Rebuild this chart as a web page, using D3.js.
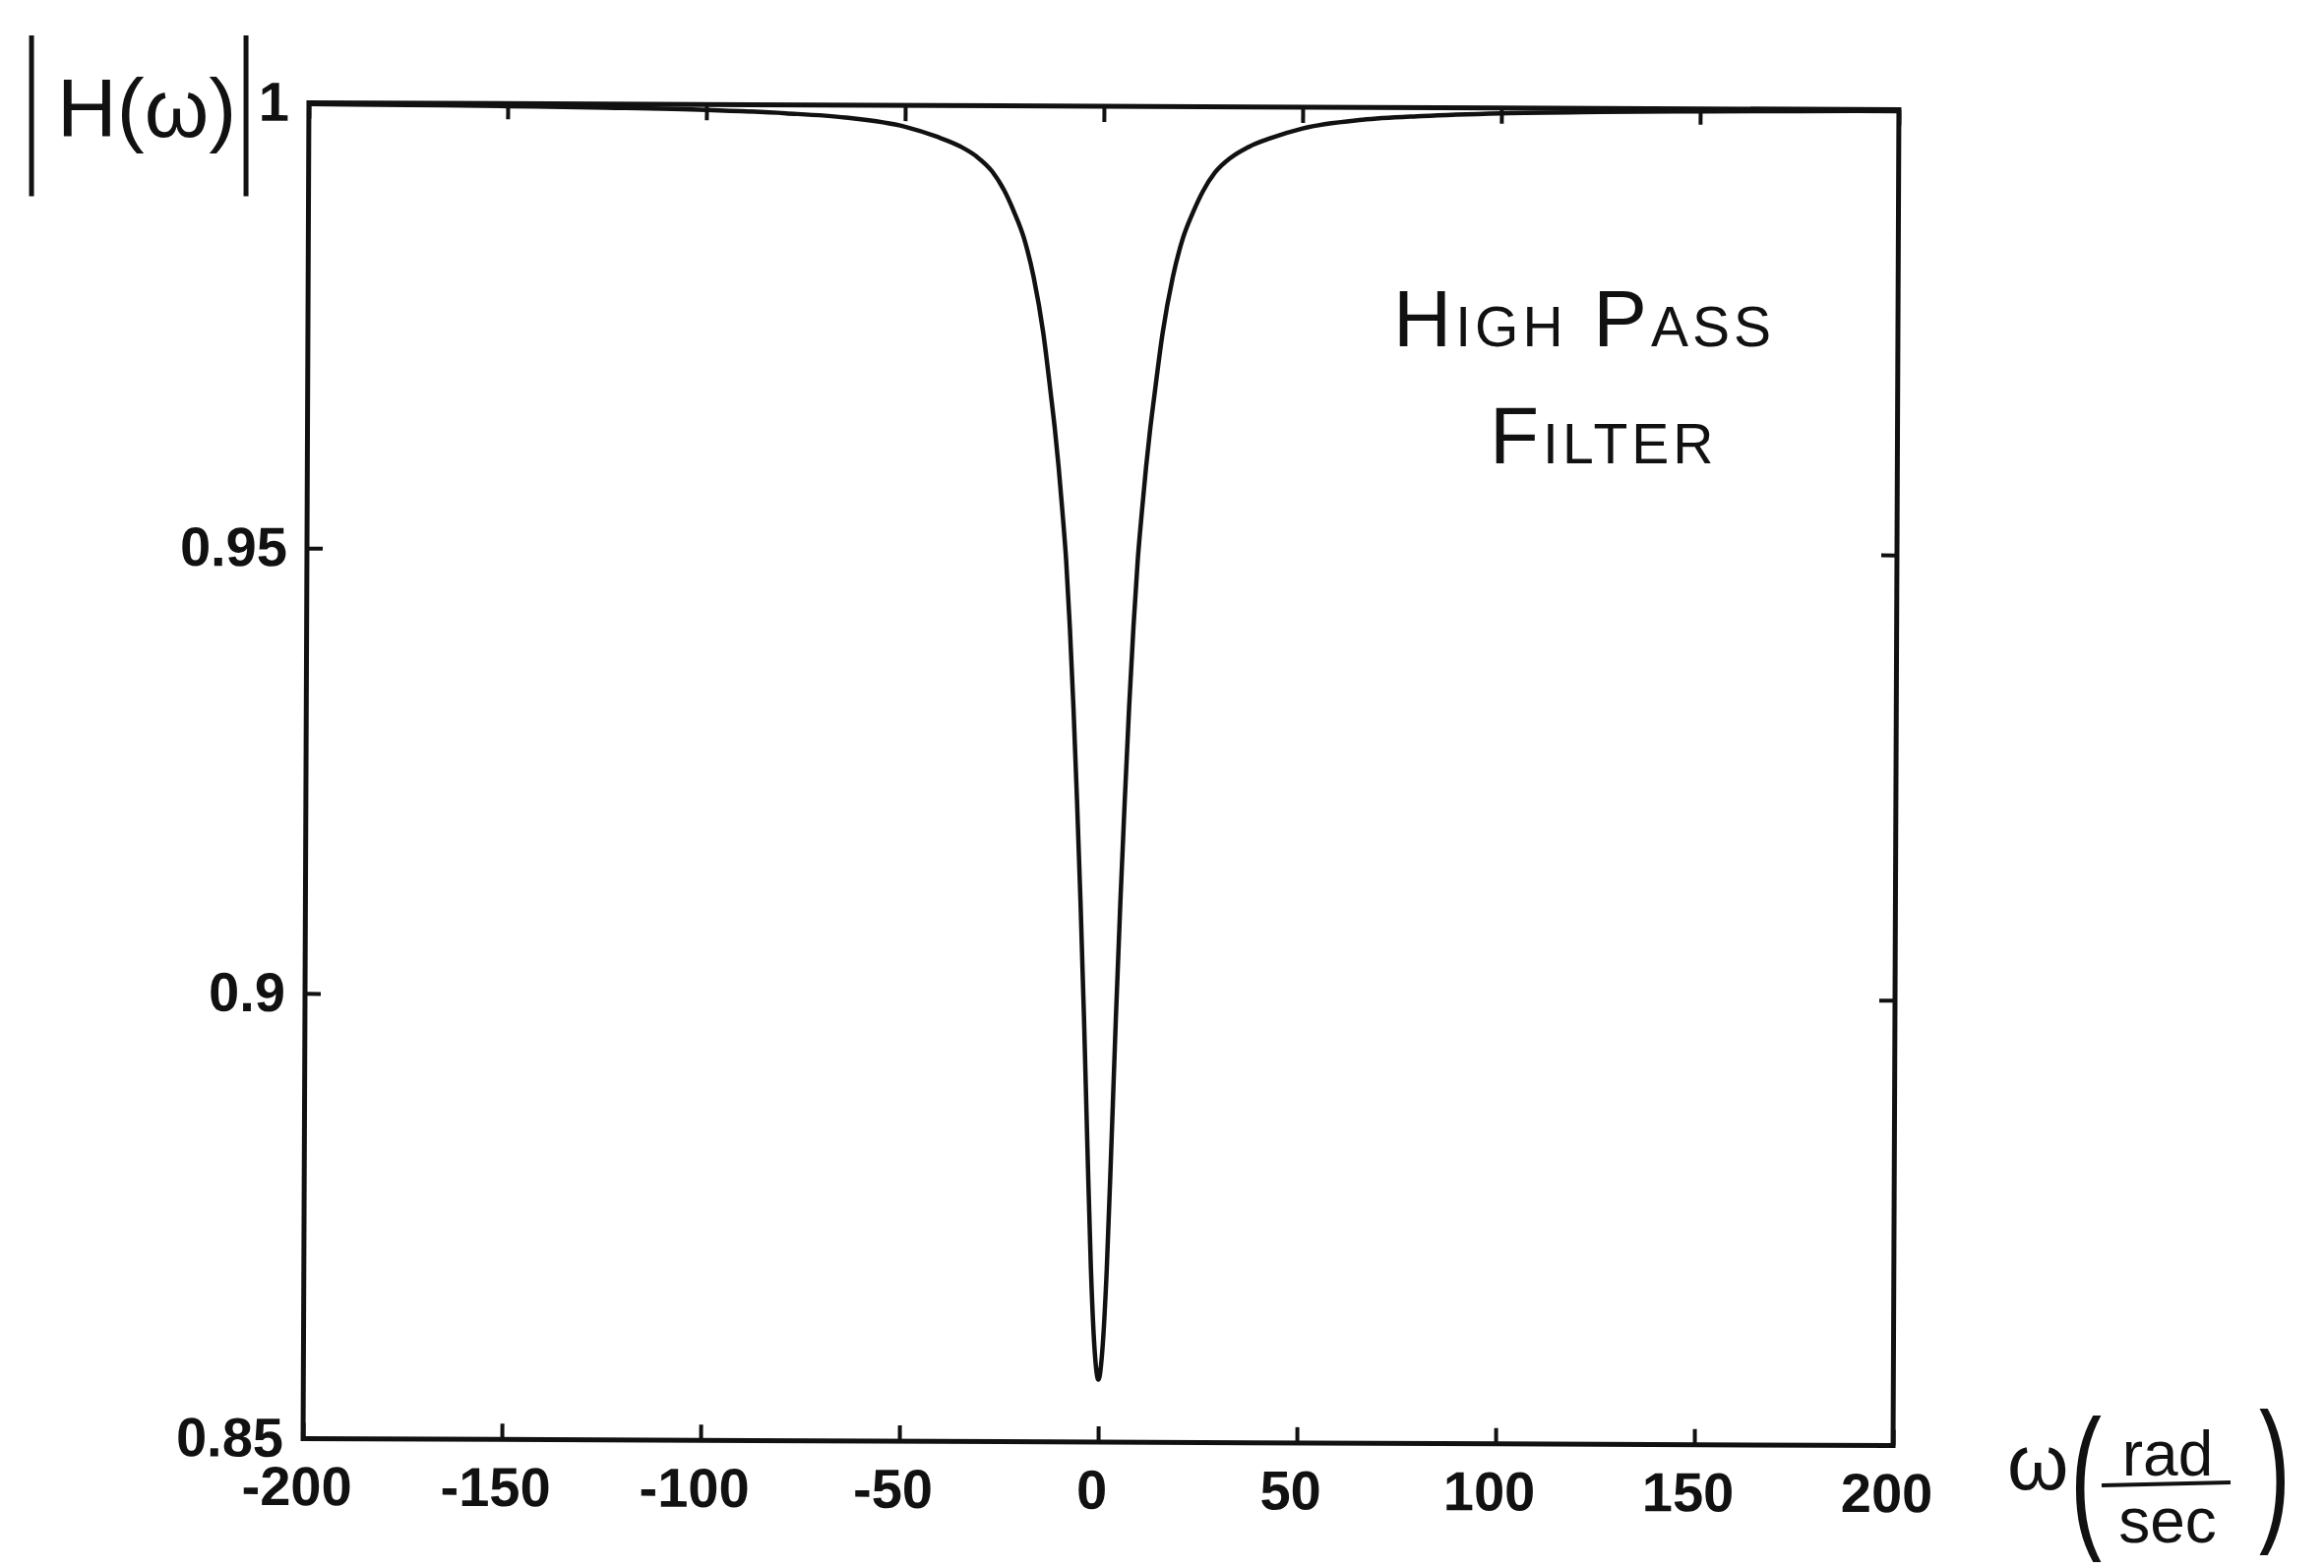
<!DOCTYPE html>
<html>
<head>
<meta charset="utf-8">
<script src="https://cdn.jsdelivr.net/npm/d3@7"></script>
<style>
  body { margin: 0; background: #fff; }
  .tick text { font-family: "Liberation Sans", Arial, sans-serif; font-weight: bold; fill: #111; }
  .hand { font-family: "Liberation Sans", Arial, sans-serif; fill: #111; }
</style>
</head>
<body>
<div id="chart"></div>
<script>
// frequency (rad/sec) and |H(w)|
const omega = [-200, -175, -150, -125, -100, -80, -65, -50, -42, -36, -32, -28, -25, -22.5, -20, -17.5, -15, -13, -12, -11, -10,
               -9, -8, -7, -6, -5, -4, -3, -2, -1, 0, 1, 2, 3, 4, 5, 6, 7, 8, 9,
               10, 11, 12, 13, 15, 17.5, 20, 22.5, 25, 28, 32, 36, 42, 50, 65, 80, 100, 125, 150, 175, 200];
const magnitude = [0.99985, 0.9998, 0.99972, 0.9996, 0.9994, 0.99905, 0.9986, 0.9976, 0.9965, 0.9954, 0.9943, 0.9926, 0.9905, 0.9881, 0.9852, 0.9808, 0.9745, 0.9675, 0.9638, 0.9595, 0.9545,
                   0.949, 0.9415, 0.9325, 0.922, 0.9105, 0.8975, 0.883, 0.8695, 0.8605, 0.857, 0.8605, 0.8695, 0.883, 0.8975, 0.9105, 0.922, 0.9325, 0.9415, 0.949,
                   0.9545, 0.9595, 0.9638, 0.9675, 0.9745, 0.9808, 0.9852, 0.9881, 0.9905, 0.9926, 0.9943, 0.9954, 0.9965, 0.9976, 0.9986, 0.99905, 0.9994, 0.9996, 0.99972, 0.9998, 0.99985];

const xTicks = [-200, -150, -100, -50, 0, 50, 100, 150, 200];
const yTicks = [0.85, 0.9, 0.95, 1];

// set the dimensions and margins of the graph
const margin = {top: 108, right: 435, bottom: 128, left: 311},
      width = 2362 - margin.left - margin.right,
      height = 1594 - margin.top - margin.bottom;

const x = d3.scaleLinear().domain([-200, 200]).range([0, width]);
const y = d3.scaleLinear().domain([0.85, 1]).range([height, 0]);

const data = omega.map((w, i) => ({w: w, h: magnitude[i]}));

const svg = d3.select("#chart").append("svg")
              .attr("width", 2362)
              .attr("height", 1594);

// the scan is a little tilted, so tilt the plot the same way
const g = svg.append("g")
             .attr("transform", "rotate(0.25," + (margin.left + width / 2) + "," + (margin.top + height / 2) + ")")
             .append("g")
             .attr("transform", "translate(" + margin.left + "," + margin.top + ")");

const tick = 16;

// bottom axis with labels, ticks pointing in
g.append("g")
 .attr("transform", "translate(0," + height + ")")
 .call(d3.axisBottom(x).tickValues(xTicks).tickSize(-tick).tickPadding(28).tickFormat(d => String(d)))
 .call(a => a.select(".domain").remove())
 .call(a => a.selectAll("text").style("font-size", "56px").attr("dx", "-0.12em"));

// left axis with labels
g.append("g")
 .call(d3.axisLeft(y).tickValues(yTicks).tickSize(-tick).tickPadding(20).tickFormat(d => String(d)))
 .call(a => a.select(".domain").remove())
 .call(a => a.selectAll("text").style("font-size", "56px"));

// top and right ticks, no labels
g.append("g")
 .call(d3.axisTop(x).tickValues(xTicks).tickSize(-tick).tickFormat(""))
 .call(a => a.select(".domain").remove());
g.append("g")
 .attr("transform", "translate(" + width + ",0)")
 .call(d3.axisRight(y).tickValues(yTicks).tickSize(-tick).tickFormat(""))
 .call(a => a.select(".domain").remove());

g.selectAll(".tick line").attr("stroke", "#111").attr("stroke-width", 4);

// frame
g.append("rect")
 .attr("width", width)
 .attr("height", height)
 .attr("fill", "none")
 .attr("stroke", "#111")
 .attr("stroke-width", 5);

// the response curve
g.append("path")
 .datum(data)
 .attr("fill", "none")
 .attr("stroke", "#111")
 .attr("stroke-width", 4.5)
 .attr("stroke-linejoin", "round")
 .attr("d", d3.line().x(d => x(d.w)).y(d => y(d.h)).curve(d3.curveMonotoneX));

// handwritten notes
function hand(txt, tx, ty, size, sx, sy) {
  return svg.append("text").attr("class", "hand")
            .attr("transform", "translate(" + tx + "," + ty + ") scale(" + sx + "," + sy + ")")
            .style("font-size", size + "px")
            .text(txt);
}

hand("|", 24, 162, 62, 1, 2.8);
hand("H(ω)", 58, 139, 84, 1, 1);
hand("|", 242, 162, 62, 1, 2.8);

hand("High Pass", 1416, 352, 82, 1, 1)
  .style("font-variant", "small-caps").style("letter-spacing", "4px");
hand("Filter", 1514, 471, 82, 1, 1)
  .style("font-variant", "small-caps").style("letter-spacing", "4px");

hand("ω", 2040, 1514, 80, 1, 1);
hand("(", 2104, 1555, 64, 1.5, 2.5);
hand(")", 2296, 1548, 64, 1.5, 2.5);
hand("rad", 2203, 1500, 64, 1, 1).attr("text-anchor", "middle");
svg.append("line").attr("x1", 2136).attr("x2", 2267).attr("y1", 1510).attr("y2", 1507)
   .attr("stroke", "#111").attr("stroke-width", 4);
hand("sec", 2203, 1568, 64, 1, 1).attr("text-anchor", "middle");
</script>
</body>
</html>
